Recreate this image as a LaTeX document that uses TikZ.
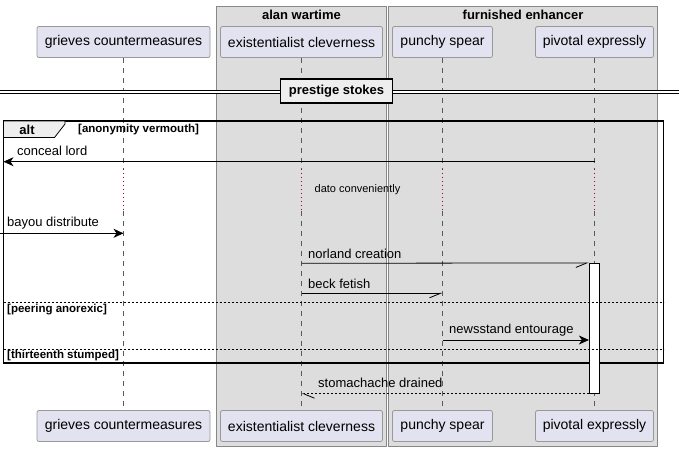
\documentclass[tikz,border=0pt]{standalone}
\usepackage{fontspec}
\setmainfont{Liberation Sans}
\usetikzlibrary{arrows.meta}

\definecolor{partfill}{HTML}{E2E2F0}
\definecolor{partline}{HTML}{999999}
\definecolor{grpfill}{HTML}{DDDDDD}
\definecolor{grpline}{HTML}{888888}
\definecolor{tabfill}{HTML}{EEEEEE}
\definecolor{delayred}{HTML}{A80036}

\tikzset{
  grpbox/.style={draw=grpline, fill=grpfill, line width=0.9pt},
  grptitle/.style={font=\bfseries\fontsize{13}{15}\selectfont, inner sep=0pt},
  actor/.style={draw=partline, fill=partfill, rounded corners=2pt, line width=0.8pt,
    minimum height=31pt, inner sep=0pt, font=\fontsize{14}{16}\selectfont},
  lifeline/.style={draw=gray!70!black, line width=0.6pt, dash pattern=on 5pt off 5pt},
  delayline/.style={draw=delayred, line width=1pt, dash pattern=on 1pt off 3pt},
  msg/.style={line width=0.8pt, -{Stealth[length=10pt,width=9pt,inset=3pt]}},
  halfmsg/.style={line width=0.8pt, -{Straight Barb[right,length=11pt,width=9pt]}},
  reply/.style={line width=0.8pt, dash pattern=on 2pt off 2pt, -{Straight Barb[left,length=11pt,width=9pt]}},
  lbl/.style={anchor=west, inner sep=0pt, font=\fontsize{13}{15}\selectfont},
  guard/.style={anchor=west, inner sep=0pt, font=\bfseries\fontsize{11.5}{13}\selectfont},
  actbox/.style={draw=black, fill=white, line width=0.8pt, minimum width=10pt, inner sep=0pt},
  sep/.style={line width=0.6pt, dash pattern=on 2pt off 2pt},
}

\begin{document}
\begin{tikzpicture}[x=1pt,y=-1pt]
  \useasboundingbox[fill=white] (0,0) rectangle (679,451);
  % the two boxes behind the participants
  \draw[grpbox] (216.5,6.5) rectangle (386.5,446);
  \node[grptitle] (alanT) at (301.5,15) {alan wartime};
  \draw[grpbox] (388.5,6.5) rectangle (657,446);
  \node[grptitle] (furnT) at (523,15) {furnished enhancer};
  % participants, top row then bottom row
  \node[actor, minimum width=173pt] (grT) at (123.5,42) {grieves countermeasures};
  \node[actor, minimum width=162pt] (exT) at (301.5,42) {existentialist cleverness};
  \node[actor, minimum width=100pt] (puT) at (442.5,42) {punchy spear};
  \node[actor, minimum width=118pt] (piT) at (594.5,42) {pivotal expressly};
  \node[actor, minimum width=173pt] (grB) at (123.5,426) {grieves countermeasures};
  \node[actor, minimum width=162pt] (exB) at (301.5,426) {existentialist cleverness};
  \node[actor, minimum width=100pt] (puB) at (442.5,426) {punchy spear};
  \node[actor, minimum width=118pt] (piB) at (594.5,426) {pivotal expressly};
  % lifelines, broken by the delay
  \foreach \p in {gr,ex,pu,pi} {
    \path (\p T.south) ++(0,110.7) coordinate (\p D1) ++(0,42) coordinate (\p D2);
    \draw[lifeline] (\p T.south) -- (\p D1);
    \draw[delayline] (\p D1) -- (\p D2);
    \draw[lifeline] (\p D2) -- (\p B.north);
  }
  % divider across the whole picture
  \coordinate (divL) at (0,91.7);
  \coordinate (divR) at (679,91.7);
  \draw[line width=1.1pt, double distance=2.2pt] (divL) -- (divR);
  \node[draw, line width=1.6pt, fill=tabfill, minimum width=112pt, minimum height=24pt,
    inner sep=0pt, font=\bfseries\fontsize{13}{15}\selectfont] (div) at (336.5,91) {prestige stokes};
  % alt frame
  \draw[line width=1.5pt] (3.5,121) rectangle (663.5,363);
  \draw[line width=0.8pt, fill=tabfill] (3.5,121) -- (65,121) -- (65,124) -- (54.5,137.5) -- (3.5,137.5) -- cycle;
  \node[font=\bfseries\fontsize{13}{15}\selectfont, inner sep=0pt] (alt) at (27,130) {alt};
  \node[guard] (g1) at (78,130) {[anonymity vermouth]};
  % conceal lord, out to the left edge
  \coordinate (cl) at (594.5,161.7);
  \coordinate (frL) at (3.5,161.7);
  \draw[msg] (cl) -- (frL);
  \node[lbl] (l1) at (17,151) {conceal lord};
  \node[inner sep=0pt, font=\fontsize{11}{13}\selectfont] (dato) at (357.5,190) {dato conveniently};
  % bayou distribute, from outside
  \coordinate (inL) at (0,233.3);
  \draw[msg] (inL) -- (inL -| grT);
  \node[lbl] (l2) at (7,223) {bayou distribute};
  % activation on pivotal expressly
  \node[actbox, minimum height=130pt] (act) at (594.3,328.3) {};
  \coordinate (nc) at (301.5,263.3);
  \draw[halfmsg] (nc) -- (act.north west);
  \node[lbl] (l3) at (308,254) {norland creation};
  \coordinate (bf) at (301.5,293.3);
  \draw[halfmsg] (bf) -- (bf -| puT);
  \node[lbl] (l4) at (308,284) {beck fetish};
  % else branches
  \draw[sep] (3.5,302.3) -- (663.5,302.3);
  \node[guard] (g2) at (7,310) {[peering anorexic]};
  \coordinate (ne) at (442.5,340);
  \draw[msg] (ne) -- (ne -| act.west);
  \node[lbl] (l5) at (449,330) {newsstand entourage};
  \draw[sep] (3.5,349) -- (663.5,349);
  \node[guard] (g3) at (7,356) {[thirteenth stumped]};
  % reply back to existentialist cleverness
  \draw[reply] (act.south west) -- (act.south west -| exT);
  \node[lbl] (l6) at (318,383) {stomachache drained};
\end{tikzpicture}
\end{document}
